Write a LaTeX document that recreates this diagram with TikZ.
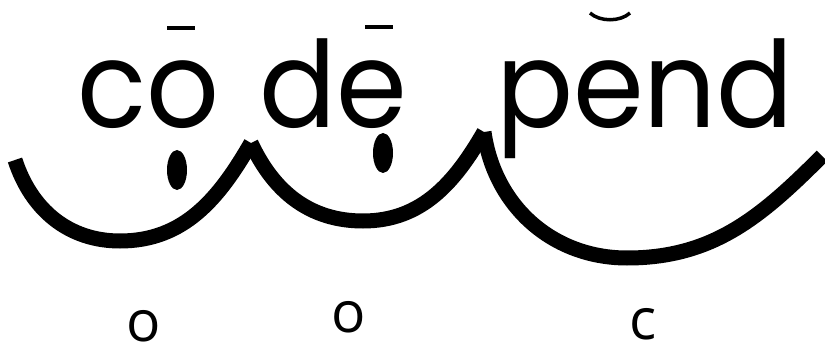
\documentclass[tikz,border=0pt]{standalone}
\usepackage{fontspec}
\setmainfont{Poppins}[FakeStretch=0.95]
\newfontfamily\glossfont{Open Sans}

\begin{document}
\begin{tikzpicture}[x=1pt, y=1pt,
    word/.style={inner sep=0pt, anchor=base west, font=\fontsize{120}{120}\selectfont},
    gloss/.style={inner sep=0pt, font=\glossfont\fontsize{57}{57}\selectfont},
    footline/.style={line width=15pt, line cap=butt},
    accentline/.style={line width=4pt}]
  \useasboundingbox (0,0) rectangle (825,346);
  \clip (0,0) rectangle (825,346);

  % syllables
  \node[word] (co)   at (77,218)  {co};
  \node[word] (de)   at (259,218) {de};
  \node[word] (pend) at (496,218) {pend};

  % length marks
  \draw[accentline] (167,318) -- (195,318);
  \draw[accentline] (365,319) -- (393,319);
  \draw[line width=3.5pt] (590,333) .. controls (600,324) and (620,324) .. (630,333);

  % dots under the vowels
  \fill (177,176) ellipse [x radius=10pt, y radius=20pt];
  \fill (383,193) ellipse [x radius=10pt, y radius=20pt];

  % feet
  \coordinate (k0) at (15,186);
  \coordinate (k1) at (251,203);
  \coordinate (k2) at (484,214);
  \coordinate (k3) at (822,190);
  \coordinate (b1) at (120,105);
  \coordinate (b2) at (363,125);
  \coordinate (b3) at (627,88);
  \draw[footline] (k0) to[out=-72, in=180] (b1) to[out=0, in=-120] (k1);
  \draw[footline] (k1) to[out=-65, in=180] (b2) to[out=0, in=-120] (k2);
  \draw[footline] (k2) to[out=-82, in=180] (b3) to[out=0, in=-135] (k3);

  % glosses
  \node[gloss] (g1) at (144,20) {o};
  \node[gloss] (g2) at (349,29) {o};
  \node[gloss] (g3) at (643,22) {c};
\end{tikzpicture}
\end{document}
